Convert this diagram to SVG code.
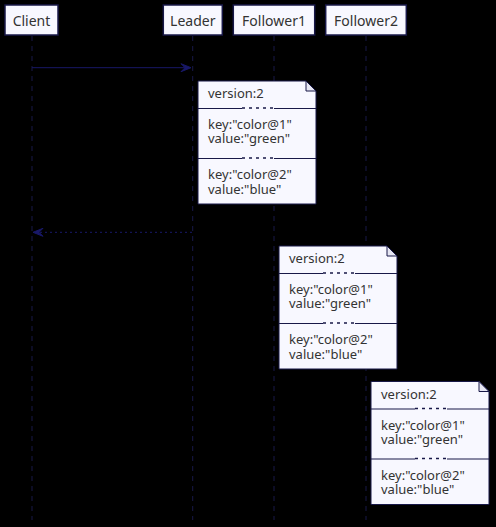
<svg xmlns="http://www.w3.org/2000/svg" width="496" height="527" viewBox="0 0 496 527">
<style>
.bg{fill:#000}
.life{stroke:#181848;stroke-width:1;stroke-dasharray:5,5;fill:none}
.pbox{fill:#F8F8FF;stroke:#181848;stroke-width:1.5}
.ptxt{font-family:"Noto Sans","DejaVu Sans",sans-serif;font-size:14px;fill:#333;text-anchor:middle}
.note{fill:#F8F8FF;stroke:#181848;stroke-width:1}
.fold{fill:#E6E6F2;stroke:#181848;stroke-width:1}
.ntxt{font-family:"Noto Sans","DejaVu Sans",sans-serif;font-size:13px;fill:#333}
.div{stroke:#181848;stroke-width:1;fill:none}
.divd{stroke:#181848;stroke-width:1.5;stroke-dasharray:3,4;fill:none}
.msg{stroke:#181868;stroke-width:1;fill:none}
.ret{stroke:#181868;stroke-width:1;stroke-dasharray:2,3;fill:none}
.head{fill:#181868;stroke:#181868;stroke-width:1}
</style>
<defs>
<g id="noteShape">
<path class="note" d="M0,0 H108 L118,10 V123 H0 Z"/>
<path class="fold" d="M108,0 V10 H118 Z"/>
<line class="div" x1="0" y1="27.5" x2="44" y2="27.5"/>
<line class="divd" x1="44" y1="27" x2="76" y2="27"/>
<line class="div" x1="76" y1="27.5" x2="118" y2="27.5"/>
<line class="div" x1="0" y1="77.5" x2="44" y2="77.5"/>
<line class="divd" x1="44" y1="77" x2="76" y2="77"/>
<line class="div" x1="76" y1="77.5" x2="118" y2="77.5"/>
<text class="ntxt" x="10" y="17">version:2</text>
<text class="ntxt" x="10" y="48">key:"color@1"</text>
<text class="ntxt" x="10" y="62">value:"green"</text>
<text class="ntxt" x="10" y="98">key:"color@2"</text>
<text class="ntxt" x="10" y="112.5">value:"blue"</text>
</g>
</defs>
<rect class="bg" x="0" y="0" width="496" height="527"/>
<g id="lifelines">
<line class="life" x1="32" y1="36" x2="32" y2="520"/>
<line class="life" x1="192.7" y1="36" x2="192.7" y2="520"/>
<line class="life" x1="274" y1="36" x2="274" y2="520"/>
<line class="life" x1="366" y1="36" x2="366" y2="520"/>
</g>
<g id="Client"><rect class="pbox" x="5" y="5" width="53" height="30"/><text class="ptxt" x="31.5" y="25.5">Client</text></g>
<g id="Leader"><rect class="pbox" x="163.3" y="5" width="59" height="30"/><text class="ptxt" x="192.8" y="25.5">Leader</text></g>
<g id="Follower1"><rect class="pbox" x="233.3" y="5" width="81.4" height="30"/><text class="ptxt" x="274" y="25.5">Follower1</text></g>
<g id="Follower2"><rect class="pbox" x="325.7" y="5" width="80.6" height="30"/><text class="ptxt" x="366" y="25.5">Follower2</text></g>
<g id="connectors">
<line class="msg" x1="32" y1="67.7" x2="189" y2="67.7"/>
<polygon class="head" points="191,67.7 181,63.7 185,67.7 181,71.7"/>
<line class="ret" x1="192" y1="232.3" x2="36" y2="232.3"/>
<polygon class="head" points="33,232.3 43,228.3 39,232.3 43,236.3"/>
</g>
<g id="note1"><use href="#noteShape" x="198" y="81"/></g>
<g id="note2"><use href="#noteShape" x="279" y="246"/></g>
<g id="note3"><use href="#noteShape" x="371" y="381.5"/></g>
</svg>
